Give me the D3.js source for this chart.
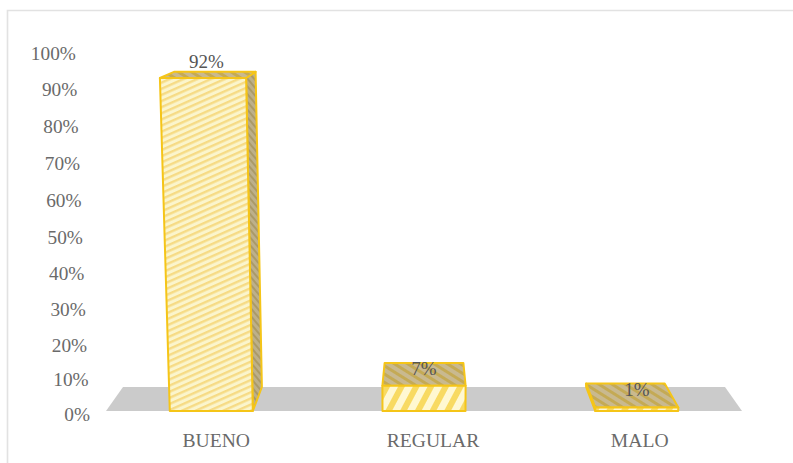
<!DOCTYPE html>
<html><head><meta charset="utf-8">
<script src="https://cdn.jsdelivr.net/npm/d3@7/dist/d3.min.js"></script>
<style>html,body{margin:0;padding:0;background:#fff}svg{display:block}text{font-family:"Liberation Serif",serif;fill:#6a6a6a}</style>
</head><body><svg id="c" width="793" height="463"></svg>
<script>
const categories = ["BUENO", "REGULAR", "MALO"];
const values = [92, 7, 1];
const tickValues = [0, 10, 20, 30, 40, 50, 60, 70, 80, 90, 100];

const svg = d3.select("#c");
const y = d3.scaleLinear().domain([0, 100]).range([411, 49]);
// The wall labels are foreshortened slightly towards the bottom of the plot.
const yLabel = d3.scaleLinear().domain([0, 20, 50, 100]).range([414, 345, 237, 53]);
const x = d3.scaleBand().domain(categories).range([106, 742]).paddingInner(0.61).paddingOuter(0.30);

// One-sided perspective: verticals lean away from the centre, depth recedes to a vanishing point.
const vp = [424, -38], depth = 0.0535, lean = 0.000424;
const front = (px, v) => [vp[0] + (px - vp[0]) * (1 + lean * v), y(v)];
const back = p => [p[0] + (vp[0] - p[0]) * depth, p[1] + (vp[1] - p[1]) * depth];
const path = pts => "M" + pts.map(p => p.map(n => n.toFixed(1)).join(",")).join("L") + "Z";

const defs = svg.append("defs");
function hatch(id, w, h, angle, bg, fg, sw) {
  const p = defs.append("pattern").attr("id", id).attr("patternUnits", "userSpaceOnUse")
    .attr("width", w).attr("height", h).attr("patternTransform", `rotate(${angle})`);
  p.append("rect").attr("width", w).attr("height", h).attr("fill", bg);
  p.append("rect").attr("width", w).attr("height", sw).attr("fill", fg);
}
hatch("frontTall", 8, 5.6, -24, "#fbf5cc", "#f6db85", 2.4);
hatch("frontShort", 13, 13, -62, "#fff8d2", "#f8da62", 6);
hatch("shade", 7, 7, 32, "#c9b98f", "#c4aa55", 3);
hatch("sideShade", 5, 5, 50, "#bdb08a", "#aa9a68", 2);

// Grey floor
const floorL = x.range()[0], floorR = x.range()[1];
svg.append("path").attr("fill", "#cbcbcb")
  .attr("d", path([front(floorL, 0), front(floorR, 0), back(front(floorR, 0)), back(front(floorL, 0))]));

// Frame: top rule across the page and a left rule to the bottom
svg.append("path").attr("fill", "none").attr("stroke", "#e2e2e2").attr("stroke-width", 1.6)
  .attr("d", "M7.5,463V10.5H793");

// Bars
const bars = svg.append("g").selectAll("g").data(categories).join("g");
bars.each(function (c, i) {
  const g = d3.select(this), v = values[i];
  const l = x(c), r = l + x.bandwidth();
  const fl0 = front(l, 0), fr0 = front(r, 0), fl = front(l, v), fr = front(r, v);
  const face = (pts, fill) => g.append("path").attr("d", path(pts)).attr("fill", fill)
    .attr("stroke", "#f5c518").attr("stroke-width", 2).attr("stroke-linejoin", "round");
  if (r < vp[0]) face([fr0, fr, back(fr), back(fr0)], "url(#sideShade)");
  if (l > vp[0]) face([fl0, fl, back(fl), back(fl0)], "url(#shade)");
  face([fl, fr, back(fr), back(fl)], "url(#shade)");
  face([fl0, fr0, fr, fl], v > 50 ? "url(#frontTall)" : "url(#frontShort)");
});

// Value labels: above the tall bar, on the top face of the short ones
const valueOf = c => values[categories.indexOf(c)];
svg.append("g").selectAll("text").data(categories).join("text")
  .attr("text-anchor", "middle").attr("font-size", 19).style("fill", "#555")
  .attr("x", c => front(x(c) + x.bandwidth() / 2, valueOf(c))[0] + (valueOf(c) > 50 ? 3.5 : 0))
  .attr("y", c => back(front(0, valueOf(c)))[1] + (valueOf(c) > 50 ? -4 : 12))
  .text(c => valueOf(c) + "%");

// Percent axis drawn along the leaning left edge
svg.append("g").selectAll("text").data(tickValues).join("text")
  .attr("text-anchor", "end").attr("font-size", 19.3)
  .attr("x", d => front(90, d)[0])
  .attr("y", d => yLabel(d) + 6.5)
  .text(d => d + "%");

// Category labels
const labelNudge = [5, 9, 3];
svg.append("g").selectAll("text").data(categories).join("text")
  .attr("text-anchor", "middle").attr("font-size", 19.6)
  .attr("x", (c, i) => x(c) + x.bandwidth() / 2 + labelNudge[i])
  .attr("y", 447)
  .text(c => c);
</script></body></html>
